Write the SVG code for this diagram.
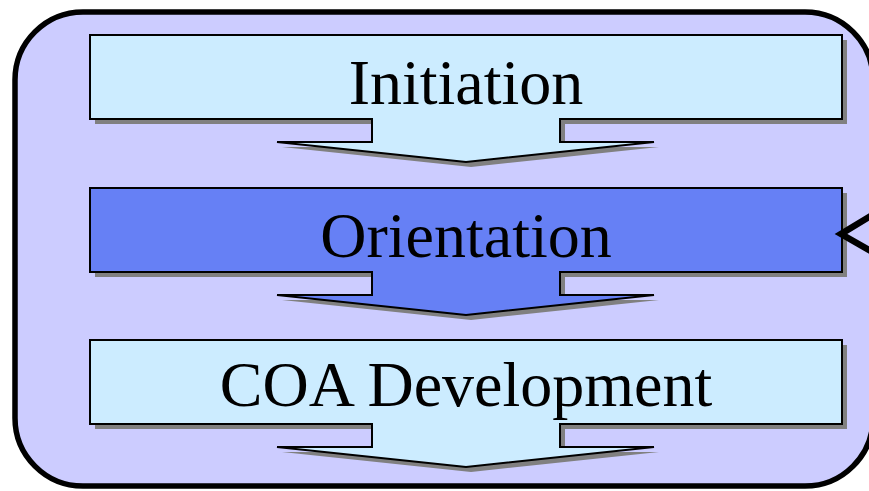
<svg xmlns="http://www.w3.org/2000/svg" width="869" height="491" viewBox="0 0 869 491">
<defs>
<style>
.frame{fill:#CCCCFF;stroke:#000;stroke-width:5.5}
.shadow{fill:#808080}
.light{fill:#CCECFF;stroke:#000;stroke-width:2;stroke-linejoin:miter}
.dark{fill:#6680F5;stroke:#000;stroke-width:2;stroke-linejoin:miter}
.label{font-family:"Liberation Serif","Times New Roman",serif;font-size:64px;fill:#000;text-anchor:middle}
.conn{fill:none;stroke:#000;stroke-width:6.5;stroke-linecap:butt;stroke-linejoin:miter}
</style>
<path id="blk" d="M0,0 H752 V84 H470 V107 H564 L376,127 L187,107 H282 V84 H0 Z"/>
</defs>
<rect width="869" height="491" fill="#fff"/>
<g id="container">
<rect class="frame" x="15" y="12" width="858" height="474" rx="68" ry="68"/>
</g>
<g id="node-initiation">
<use href="#blk" class="shadow" transform="translate(95,40)"/>
<use href="#blk" class="light" transform="translate(90,35)"/>
<text class="label" x="466" y="104">Initiation</text>
</g>
<g id="node-orientation">
<use href="#blk" class="shadow" transform="translate(95,193)"/>
<use href="#blk" class="dark" transform="translate(90,188)"/>
<text class="label" x="466" y="257">Orientation</text>
</g>
<g id="node-coa">
<use href="#blk" class="shadow" transform="translate(95,345)"/>
<use href="#blk" class="light" transform="translate(90,340)"/>
<text class="label" x="466" y="406">COA Development</text>
</g>
<g id="connectors">
<polyline class="conn" points="874,214 841,234 874,253"/>
</g>
</svg>
